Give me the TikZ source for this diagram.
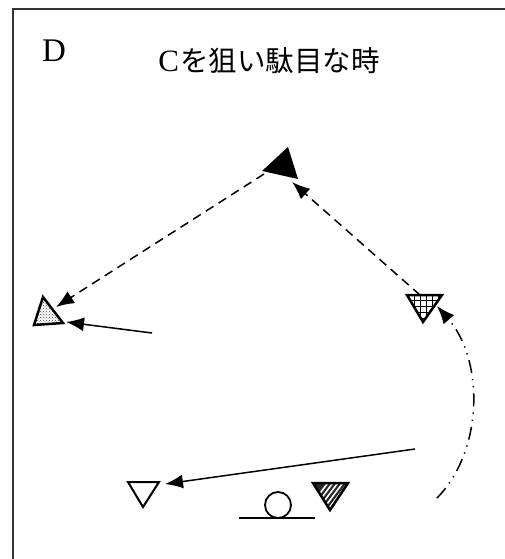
\documentclass[tikz,border=0pt]{standalone}
\usepackage{fontspec}
\setmainfont{Liberation Serif}
\newfontfamily\jpfont{Noto Sans CJK JP}
\usetikzlibrary{arrows.meta,patterns}
\tikzset{
  bighead/.tip={Latex[length=18pt,width=14pt]},
  conn/.style={line width=1.5pt, arrows={-bighead}},
  dsh/.style={conn, dash pattern=on 9pt off 6pt},
  ddot/.style={conn, dash pattern=on 13pt off 6pt on 1.3pt off 6pt on 1.3pt off 6pt},
  tri/.style={line width=2.5pt, line join=miter},
  frame/.style={line width=2.2pt, black!80}
}
\begin{document}
\begin{tikzpicture}[x=1pt,y=-1pt]
\useasboundingbox (0,0) rectangle (505,559);
\draw[frame] (13,559) -- (13,9) -- (505,9);

\node (D) at (54,51) {\fontsize{33}{33}\selectfont D};
\node (title) at (269,61) {\fontsize{31}{31}\selectfont C\hspace{1pt}{\jpfont\fontsize{28.5}{29}\selectfont を狙い駄目な時}};

% top black triangle
\coordinate (a1) at (262,171); \coordinate (a2) at (288,147); \coordinate (a3) at (298,179);
\fill[black] (a1) -- (a2) -- (a3) -- cycle;
\coordinate (topS) at (264,174);
\coordinate (topE) at (292,182);

% left dotted triangle
\coordinate (b1) at (43,297); \coordinate (b2) at (34,325); \coordinate (b3) at (63,323);
\fill[pattern=crosshatch dots, pattern color=black!75] (b1) -- (b2) -- (b3) -- cycle;
\draw[tri] (b1) -- (b2) -- (b3) -- cycle;
\coordinate (leftE1) at (56,307);
\coordinate (leftE2) at (66,322);
\coordinate (leftS) at (152,333);

% grid triangle
\coordinate (c1) at (407,295); \coordinate (c2) at (442,295); \coordinate (c3) at (423,322);
\begin{scope}
  \clip (c1) -- (c2) -- (c3) -- cycle;
  \draw[line width=1pt] (400,289) grid[step=6pt] (450,330);
\end{scope}
\draw[tri] (c1) -- (c2) -- (c3) -- cycle;
\coordinate (gridS) at (420,295);
\coordinate (gridE) at (437,306);

% bottom white triangle
\coordinate (d1) at (128,482); \coordinate (d2) at (159,482); \coordinate (d3) at (143,507);
\draw[line width=2pt] (d1) -- (d2) -- (d3) -- cycle;
\coordinate (botE) at (165,484);
\coordinate (botS) at (415,449);

% ball and line
\node[circle, draw, line width=1.8pt, minimum size=26pt, inner sep=0pt] (ball) at (278,505) {};
\coordinate (l1) at (239,518); \coordinate (l2) at (315,518);
\draw[line width=1.8pt] (l1) -- (l2);

% striped triangle
\coordinate (e1) at (313,483); \coordinate (e2) at (348,483); \coordinate (e3) at (330,510);
\fill[black!85] (e1) -- (e2) -- (e3) -- cycle;
\begin{scope}
  \clip (e1) -- (e2) -- (e3) -- cycle;
  \foreach \k in {0,...,12} {
    \draw[white, line width=1.6pt] (300+5*\k,520) -- (330+5*\k,480);
  }
\end{scope}
\draw[tri] (e1) -- (e2) -- (e3) -- cycle;

\coordinate (curveS) at (437,498);

% connectors
\draw[dsh] (topS) -- (leftE1);
\draw[dsh] (gridS) -- (topE);
\draw[conn] (leftS) -- (leftE2);
\draw[conn] (botS) -- (botE);
\draw[ddot] (curveS) .. controls (484,450) and (484,360) .. (gridE);
\end{tikzpicture}
\end{document}
